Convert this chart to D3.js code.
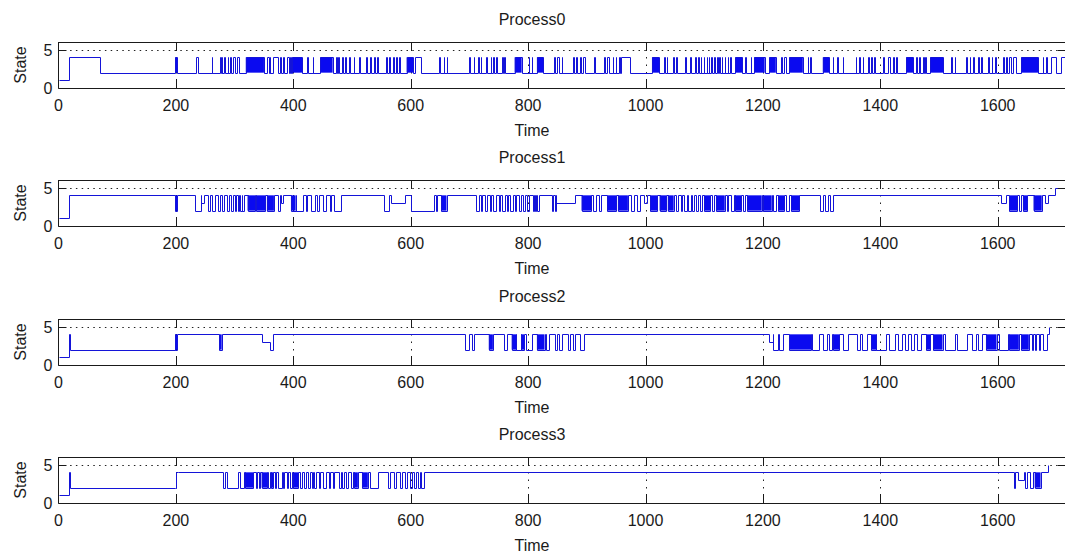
<!DOCTYPE html>
<html>
<head>
<meta charset="utf-8">
<script src="https://cdn.jsdelivr.net/npm/d3@7"></script>
<style>
  html, body { margin: 0; padding: 0; background: #fff; }
  svg { display: block; }
  text { font-family: "Liberation Sans", Arial, sans-serif; fill: #1a1a1a; }
</style>
</head>
<body>
<svg id="chart" width="1065" height="555"></svg>
<script>
// ---------------- DATA ----------------
const processNames = ["Process0", "Process1", "Process2", "Process3"];
const xTicks = [0, 200, 400, 600, 800, 1000, 1200, 1400, 1600];
const yTicks = [0, 5];
const xLabel = "Time";
const yLabel = "State";

// baseline change points [time, state]
const steps0 = [[0,1],[18,4],[70,2],[1707,4]];
const steps1 = [[0,1],[18,4],[1698,5]];
const steps2 = [[0,1],[18,4],[19,2],[199,4],[346,3],[361,2],[366,4],[1688,5]];
const steps3 = [[0,1],[18,4],[19,2],[200,4],[1686,5]];
// last recorded time of each process
const endTimes = [1716, 1702, 1688, 1686];

// level used by short excursions (unless a third value is given)
const altLevels = [4, 2, 2, 2];

// short excursions [start, end, (state)]
const pulses0 = [[234,237],[261,262],[275,276],[278,279],[282,283],[288,289],[293,294],[298,301],[304,307],[356,358],[360,361],[365,374],[378,379],[383,384],[390,392],[395,396],[424,425],[433,434],[473,475],[477,478],[483,484],[488,489],[495,496],[503,504],[512,513],[524,526],[530,532],[538,539],[543,544],[558,559],[563,564],[570,571],[575,576],[580,581],[608,618],[649,650],[656,657],[661,662],[700,701],[707,708],[715,717],[719,720],[729,730],[736,737],[741,742],[746,747],[755,757],[759,760],[801,802],[806,807],[844,846],[849,852],[857,858],[876,878],[881,883],[888,890],[894,897],[913,914],[929,931],[935,937],[944,945],[949,950],[955,956],[959,973],[1032,1034],[1036,1037],[1046,1048],[1052,1054],[1068,1069],[1076,1077],[1085,1086],[1090,1091],[1094,1095],[1099,1100],[1104,1105],[1108,1109],[1112,1113],[1117,1118],[1122,1123],[1126,1127],[1130,1131],[1135,1136],[1140,1141],[1144,1145],[1170,1171],[1179,1180],[1230,1232],[1236,1239],[1276,1277],[1281,1282],[1319,1320],[1327,1328],[1336,1337],[1358,1359],[1364,1365],[1370,1371],[1379,1380],[1385,1386],[1390,1391],[1404,1406],[1413,1416],[1422,1423],[1427,1428],[1461,1463],[1466,1468],[1472,1474],[1476,1478],[1521,1522],[1527,1528],[1546,1547],[1552,1553],[1558,1559],[1567,1568],[1572,1573],[1584,1585],[1590,1591],[1596,1597],[1609,1611],[1614,1616],[1620,1622],[1626,1632],[1677,1678],[1683,1684],[1690,1700]];
const pulses1 = [[233,242],[242,248,3],[255,258],[262,266],[271,275],[279,282],[287,290],[294,298],[300,302],[305,307],[309,312],[313,316],[374,378],[379,382,3],[404,417],[421,423],[430,437],[441,443],[451,456],[462,464],[470,481],[555,563],[567,590,3],[600,640],[643,645],[712,716],[720,722],[726,730],[735,737],[740,745],[750,752],[756,760],[764,766],[770,775],[778,780],[784,788],[792,795],[798,801],[808,810],[812,814],[816,818],[840,843],[846,848],[848,880,3],[911,915],[920,925],[976,980],[985,990],[998,1003,3],[1052,1056],[1060,1063],[1066,1070],[1073,1077],[1080,1083],[1086,1090],[1093,1096],[1113,1117],[1138,1141],[1145,1150],[1166,1170],[1218,1222],[1240,1244],[1298,1303],[1306,1311],[1314,1319],[1606,1614,3],[1636,1640],[1680,1685,3]];
const pulses2 = [[692,700],[704,708],[759,764],[780,788],[797,806],[830,836],[846,850],[853,857],[868,872],[876,880],[889,896],[1210,1218,3],[1218,1225],[1228,1234],[1284,1295],[1303,1310],[1313,1317],[1336,1345],[1360,1365],[1368,1378],[1393,1410],[1415,1425],[1430,1437],[1442,1448],[1452,1458],[1462,1470],[1510,1527],[1530,1547],[1556,1563],[1567,1573],[1603,1617],[1658,1660],[1664,1666],[1670,1672],[1678,1684]];
const pulses3 = [[281,283],[287,305],[310,316],[336,339],[341,344],[357,360],[368,371],[374,380],[382,385],[389,391],[395,397],[412,415],[418,421],[425,428],[432,434],[436,439],[443,446],[450,456],[460,463],[467,470],[478,481],[483,486],[490,493],[498,501],[531,545],[561,565],[571,575],[581,585],[591,594],[598,602],[605,609],[612,616],[618,622],[1627,1629],[1634,1645,3],[1646,1650],[1655,1660]];

// blocks of switching too fast to resolve [start, end]
const bands0 = [[199,202],[319,350],[398,415],[446,467],[593,604],[777,789],[815,826],[1011,1023],[1153,1165],[1185,1203],[1211,1222],[1245,1268],[1302,1313],[1444,1456],[1485,1507],[1640,1669]];
const bands1 = [[199,202],[322,335],[337,352],[355,367],[396,404],[652,661],[891,908],[935,950],[953,970],[1008,1020],[1024,1035],[1038,1048],[1100,1110],[1120,1135],[1152,1163],[1173,1198],[1200,1215],[1226,1236],[1248,1262],[1620,1633],[1643,1650],[1661,1675]];
const bands2 = [[199,202],[274,278],[733,740],[772,780],[788,793],[815,828],[1245,1282],[1320,1330],[1385,1393],[1478,1485],[1490,1506],[1580,1598],[1620,1636],[1640,1653]];
const bands3 = [[198,203],[318,332],[346,356],[362,366],[400,408],[503,510],[517,527],[1663,1673]];

const allSteps = [steps0, steps1, steps2, steps3];
const allPulses = [pulses0, pulses1, pulses2, pulses3];
const allBands = [bands0, bands1, bands2, bands3];

// ---------------- LAYOUT ----------------
const svg = d3.select("#chart");
const plotLeft = 58.5;
const unit = 0.587;
const xDomain = [0, 1716];
const panelTops = [42, 180, 319, 457];
const panelH = 46;
const centerX = 532;
const lineColor = "#1414d8";
const bandColor = "#0a0af0";
const axisColor = "#1a1a1a";

const x = d3.scaleLinear().domain(xDomain).range([plotLeft, plotLeft + unit * (xDomain[1] - xDomain[0])]);
const xR = x.range()[1];

function buildSeries(steps, pulses, bands, alt, tEnd) {
  const base = t => { let v = steps[0][1]; for (const s of steps) if (s[0] <= t) v = s[1]; return v; };
  const pts = steps.map(d => ({t: d[0], v: d[1], r: 1}));
  pulses.forEach(p => {
    pts.push({t: p[0], v: p.length > 2 ? p[2] : alt, r: 1});
    pts.push({t: p[1], v: base(p[1]), r: 0});
  });
  bands.forEach(b => {
    pts.push({t: b[0], v: alt, r: 1});
    pts.push({t: b[1], v: base(b[1]), r: 0});
  });
  pts.sort((a, b) => a.t - b.t || a.r - b.r);
  const kept = pts.filter(d => d.t <= tEnd);
  kept.push({t: tEnd, v: kept[kept.length - 1].v});
  return {pts: kept, base};
}

processNames.forEach((name, i) => {
  const top = panelTops[i], bottom = top + panelH;
  const y = d3.scaleLinear().domain([0, 6]).range([bottom, top]);
  const g = svg.append("g");

  const clipId = "clip" + i;
  svg.append("clipPath").attr("id", clipId).append("rect")
    .attr("x", plotLeft).attr("y", top).attr("width", xR - plotLeft).attr("height", panelH + 1);

  // grid: horizontal dotted
  g.selectAll(".hgrid").data(yTicks.filter(d => d !== 0)).enter().append("line")
    .attr("x1", plotLeft).attr("x2", xR)
    .attr("y1", d => Math.round(y(d)) + 0.5).attr("y2", d => Math.round(y(d)) + 0.5)
    .attr("stroke", "#222").attr("stroke-width", 1).attr("stroke-dasharray", "1.5,4.3");
  // vertical dotted
  g.selectAll(".vgrid").data(xTicks.filter(d => d !== 0)).enter().append("line")
    .attr("x1", d => Math.round(x(d)) + 0.5).attr("x2", d => Math.round(x(d)) + 0.5)
    .attr("y1", top).attr("y2", bottom)
    .attr("stroke", "#222").attr("stroke-width", 1).attr("stroke-dasharray", "1.5,6");

  // data
  const alt = altLevels[i];
  const {pts, base} = buildSeries(allSteps[i], allPulses[i], allBands[i], alt, endTimes[i]);
  const dg = g.append("g").attr("clip-path", `url(#${clipId})`);
  dg.selectAll("rect.band").data(allBands[i]).enter().append("rect")
    .attr("x", d => x(d[0])).attr("width", d => x(d[1]) - x(d[0]))
    .attr("y", d => y(Math.max(alt, base(d[0] + 0.5))))
    .attr("height", d => y(Math.min(alt, base(d[0] + 0.5))) - y(Math.max(alt, base(d[0] + 0.5))))
    .attr("fill", bandColor);
  dg.append("path").datum(pts)
    .attr("d", d3.line().x(d => Math.round(x(d.t)) + 0.5).y(d => Math.round(y(d.v)) + 0.5).curve(d3.curveStepAfter))
    .attr("fill", "none").attr("stroke", lineColor).attr("stroke-width", 1);

  // box
  g.append("line").attr("x1", plotLeft).attr("x2", xR).attr("y1", top + 0.5).attr("y2", top + 0.5).attr("stroke", axisColor);
  g.append("line").attr("x1", plotLeft).attr("x2", xR).attr("y1", bottom + 0.5).attr("y2", bottom + 0.5).attr("stroke", axisColor);
  g.append("line").attr("x1", plotLeft).attr("x2", plotLeft).attr("y1", top).attr("y2", bottom + 0.5).attr("stroke", axisColor);
  g.append("line").attr("x1", xR).attr("x2", xR).attr("y1", top).attr("y2", bottom + 0.5).attr("stroke", axisColor);

  // x ticks (inside, top and bottom)
  const tl = 9;
  xTicks.filter(d => d !== 0).forEach(d => {
    const xx = Math.round(x(d)) + 0.5;
    g.append("line").attr("x1", xx).attr("x2", xx).attr("y1", top).attr("y2", top + tl).attr("stroke", axisColor);
    g.append("line").attr("x1", xx).attr("x2", xx).attr("y1", bottom - tl).attr("y2", bottom).attr("stroke", axisColor);
  });
  // y ticks, left and right
  yTicks.forEach(d => {
    const yy = Math.round(y(d)) + 0.5;
    g.append("line").attr("x1", plotLeft).attr("x2", plotLeft + 8).attr("y1", yy).attr("y2", yy).attr("stroke", axisColor);
    g.append("line").attr("x1", xR - 8).attr("x2", xR).attr("y1", yy).attr("y2", yy).attr("stroke", axisColor);
  });

  // x tick labels
  g.selectAll(".xl").data(xTicks).enter().append("text")
    .attr("x", d => x(d)).attr("y", bottom + 23)
    .attr("text-anchor", "middle").attr("font-size", 16).text(d => d);
  // y tick labels
  g.selectAll(".yl").data(yTicks).enter().append("text")
    .attr("x", plotLeft - 6).attr("y", d => y(d) + 6)
    .attr("text-anchor", "end").attr("font-size", 16).text(d => d);
  // title
  g.append("text").attr("x", centerX).attr("y", top - 17).attr("text-anchor", "middle").attr("font-size", 16).text(name);
  // x label
  g.append("text").attr("x", centerX).attr("y", bottom + 48).attr("text-anchor", "middle").attr("font-size", 16).text(xLabel);
  // y label
  g.append("text").attr("transform", `translate(26,${top + panelH / 2}) rotate(-90)`)
    .attr("text-anchor", "middle").attr("font-size", 16).text(yLabel);
});
</script>
</body>
</html>
